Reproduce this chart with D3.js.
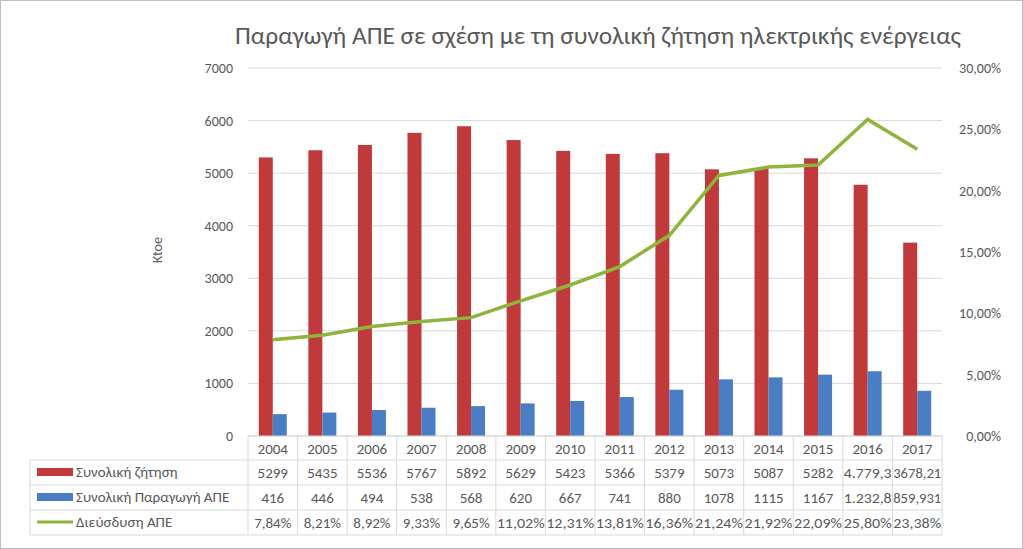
<!DOCTYPE html>
<html><head><meta charset="utf-8">
<script src="https://cdn.jsdelivr.net/npm/d3@7"></script>
<style>body{margin:0;background:#fff;font-family:Calibri,Carlito,"Open Sans",sans-serif;}</style>
</head><body><svg id="c" width="1023" height="549"></svg>
<script>
// chart data
var years = ["2004","2005","2006","2007","2008","2009","2010","2011","2012","2013","2014","2015","2016","2017"];
var demand = [5299,5435,5536,5767,5892,5629,5423,5366,5379,5073,5087,5282,4779.3,3678.21];
var production = [416,446,494,538,568,620,667,741,880,1078,1115,1167,1232.8,859.931];
var penetration = [7.84,8.21,8.92,9.33,9.65,11.02,12.31,13.81,16.36,21.24,21.92,22.09,25.80,23.38];
var demandText = ["5299","5435","5536","5767","5892","5629","5423","5366","5379","5073","5087","5282","4.779,3","3678,21"];
var productionText = ["416","446","494","538","568","620","667","741","880","1078","1115","1167","1.232,8","859,931"];
var leftTicks = [0,1000,2000,3000,4000,5000,6000,7000];
var rightTicks = [0,5,10,15,20,25,30];

var svg = d3.select("#c");
var red = "#c0393b", blue = "#4a7ec4", green = "#8db53c", grid = "#d9d9d9", txt = "#595959";
var plotLeft = 248, plotRight = 942, plotTop = 68, plotBottom = 436;

svg.append("rect").attr("x",0.5).attr("y",0.5).attr("width",1022).attr("height",548)
  .attr("fill","#fff").attr("stroke","#bfbfbf");

svg.append("text").attr("x",598).attr("y",44).attr("text-anchor","middle")
  .attr("font-size",24).attr("fill",txt).attr("textLength",726).attr("lengthAdjust","spacingAndGlyphs")
  .text("Παραγωγή ΑΠΕ σε σχέση με τη συνολική ζήτηση ηλεκτρικής ενέργειας");

var x = d3.scaleBand().domain(years).range([plotLeft,plotRight]);
var y = d3.scaleLinear().domain([0,7000]).range([plotBottom,plotTop]);
var y2 = d3.scaleLinear().domain([0,30]).range([plotBottom,plotTop]);

svg.append("g").selectAll("line").data(leftTicks).join("line")
  .attr("x1",plotLeft).attr("x2",plotRight).attr("y1",d=>y(d)).attr("y2",d=>y(d)).attr("stroke",grid);

svg.append("g").selectAll("text").data(leftTicks).join("text")
  .attr("x",233).attr("y",d=>y(d)+5).attr("text-anchor","end").attr("font-size",14).attr("fill",txt).text(d=>d);
svg.append("g").selectAll("text").data(rightTicks).join("text")
  .attr("x",1001).attr("y",d=>y2(d)+5).attr("text-anchor","end").attr("font-size",14).attr("fill",txt)
  .text(d=>d.toFixed(2).replace(".",",")+"%");
svg.append("text").attr("transform","translate(162,250) rotate(-90)").attr("text-anchor","middle")
  .attr("font-size",14).attr("fill",txt).text("Ktoe");

var bw = 14;
svg.append("g").selectAll("rect").data(demand).join("rect")
  .attr("x",(d,i)=>x(years[i])+x.bandwidth()/2-bw).attr("width",bw)
  .attr("y",d=>y(d)).attr("height",d=>plotBottom-y(d)).attr("fill",red);
svg.append("g").selectAll("rect").data(production).join("rect")
  .attr("x",(d,i)=>x(years[i])+x.bandwidth()/2).attr("width",bw)
  .attr("y",d=>y(d)).attr("height",d=>plotBottom-y(d)).attr("fill",blue);

svg.append("path").datum(penetration)
  .attr("d",d3.line().x((d,i)=>x(years[i])+x.bandwidth()/2).y(d=>y2(d)))
  .attr("fill","none").attr("stroke",green).attr("stroke-width",3.5);

// data table
var rows = [436,460,485,510,535];
var tbl = svg.append("g").attr("stroke","#d9d9d9").attr("fill","none");
rows.forEach((r,k)=>tbl.append("line").attr("x1",k==0?plotLeft:30).attr("x2",plotRight).attr("y1",r).attr("y2",r));
years.concat([""]).forEach((d,i)=>{
  var xx = i<years.length ? x(d) : plotRight;
  tbl.append("line").attr("x1",xx).attr("x2",xx).attr("y1",plotBottom).attr("y2",535);
});
tbl.append("line").attr("x1",30).attr("x2",30).attr("y1",460).attr("y2",535);

var tableRows = [years, demandText, productionText, penetration.map(d=>d.toFixed(2).replace(".",",")+"%")];
tableRows.forEach((vals,k)=>{
  svg.append("g").selectAll("text").data(vals).join("text")
    .attr("x",(d,i)=>x(years[i])+x.bandwidth()/2).attr("y",rows[k]+18)
    .attr("text-anchor","middle").attr("font-size",15).attr("fill",txt)
    .attr("textLength",(d)=>d.length>5?48:null).attr("lengthAdjust","spacingAndGlyphs").text(d=>d);
});
var legend = [["Συνολική ζήτηση",red,"bar"],["Συνολική Παραγωγή ΑΠΕ",blue,"bar"],["Διεύσδυση ΑΠΕ",green,"line"]];
legend.forEach((l,k)=>{
  var cy = rows[k+1]+12;
  if(l[2]=="bar") svg.append("rect").attr("x",37).attr("y",cy-4).attr("width",36).attr("height",8).attr("fill",l[1]);
  else svg.append("line").attr("x1",37).attr("x2",73).attr("y1",cy).attr("y2",cy).attr("stroke",l[1]).attr("stroke-width",3);
  svg.append("text").attr("x",76).attr("y",cy+5).attr("font-size",15).attr("fill",txt).text(l[0]);
});
</script></body></html>
